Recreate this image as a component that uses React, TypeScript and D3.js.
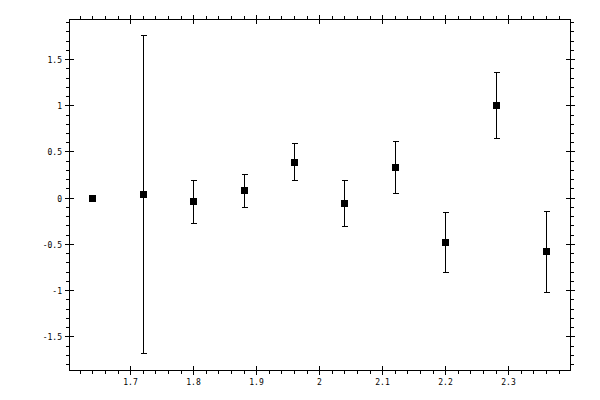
import * as d3 from 'd3';
import { useEffect, useRef } from 'react';

// measured values
const xValues = [1.64, 1.72, 1.8, 1.88, 1.96, 2.04, 2.12, 2.2, 2.28, 2.36];
const yValues = [0.0, 0.04, -0.04, 0.08, 0.39, -0.06, 0.33, -0.48, 1.0, -0.58];
const yErrors = [0, 1.72, 0.23, 0.18, 0.2, 0.25, 0.28, 0.32, 0.357, 0.44];

const xTickValues = [1.7, 1.8, 1.9, 2.0, 2.1, 2.2, 2.3];
const xTickLabels = ['1.7', '1.8', '1.9', '2', '2.1', '2.2', '2.3'];
const yTickValues = [-1.5, -1, -0.5, 0, 0.5, 1, 1.5];
const yTickLabels = ['-1.5', '-1', '-0.5', '0', '0.5', '1', '1.5'];

const width = 600;
const height = 400;
const left = 69;
const right = 570;
const top = 19;
const bottom = 370;

const App = () => {
  const ref = useRef<SVGSVGElement>(null);

  useEffect(() => {
    const svg = d3.select(ref.current);
    svg.selectAll('*').remove();

    const x = d3.scaleLinear([1.603, 2.398], [left, right]);
    const y = d3.scaleLinear([-1.865, 1.934], [bottom, top]);

    const xMinor = d3.range(81, 120).map((i) => i / 50).filter((v) => Math.round(v * 50) % 5 !== 0);
    const yMinor = d3.range(-18, 20).map((i) => i / 10).filter((v) => Math.round(v * 10) % 5 !== 0);

    const g = svg.append('g').attr('shape-rendering', 'crispEdges').attr('stroke', '#000').attr('fill', 'none');

    // frame
    g.append('rect')
      .attr('x', left + 0.5)
      .attr('y', top + 0.5)
      .attr('width', right - left)
      .attr('height', bottom - top);

    // helper for tick segments
    const seg = (x1: number, y1: number, x2: number, y2: number) =>
      g.append('line').attr('x1', x1).attr('y1', y1).attr('x2', x2).attr('y2', y2);

    const px = (v: number) => Math.round(x(v)) + 0.5;
    const py = (v: number) => Math.round(y(v)) + 0.5;

    xTickValues.forEach((v) => {
      seg(px(v), bottom - 4, px(v), bottom + 5);
      seg(px(v), top - 4, px(v), top + 5);
    });
    xMinor.forEach((v) => {
      seg(px(v), bottom, px(v), bottom + 4);
      seg(px(v), top - 3, px(v), top + 1);
    });
    yTickValues.forEach((v) => {
      seg(left - 4, py(v), left + 5, py(v));
      seg(right - 4, py(v), right + 5, py(v));
    });
    yMinor.forEach((v) => {
      seg(left - 3, py(v), left + 1, py(v));
      seg(right, py(v), right + 4, py(v));
    });

    const font = "'DejaVu Sans Mono', monospace";

    svg
      .append('g')
      .selectAll('text')
      .data(xTickValues)
      .enter()
      .append('text')
      .attr('x', (d) => px(d))
      .attr('y', bottom + 15)
      .attr('text-anchor', 'middle')
      .attr('font-family', font)
      .attr('font-size', 8)
      .text((_, i) => xTickLabels[i]);

    svg
      .append('g')
      .selectAll('text')
      .data(yTickValues)
      .enter()
      .append('text')
      .attr('x', left - 7)
      .attr('y', (d) => py(d) + 3)
      .attr('text-anchor', 'end')
      .attr('font-family', font)
      .attr('font-size', 8)
      .text((_, i) => yTickLabels[i]);

    // error bars
    const data = xValues.map((xv, i) => ({ x: xv, y: yValues[i], e: yErrors[i] }));
    const bars = svg
      .append('g')
      .attr('stroke', '#000')
      .attr('shape-rendering', 'crispEdges')
      .selectAll('g')
      .data(data.filter((d) => d.e > 0))
      .enter()
      .append('g');
    bars
      .append('line')
      .attr('x1', (d) => px(d.x))
      .attr('x2', (d) => px(d.x))
      .attr('y1', (d) => py(d.y + d.e))
      .attr('y2', (d) => py(d.y - d.e));
    bars
      .append('line')
      .attr('x1', (d) => px(d.x) - 3)
      .attr('x2', (d) => px(d.x) + 3)
      .attr('y1', (d) => py(d.y + d.e))
      .attr('y2', (d) => py(d.y + d.e));
    bars
      .append('line')
      .attr('x1', (d) => px(d.x) - 3)
      .attr('x2', (d) => px(d.x) + 3)
      .attr('y1', (d) => py(d.y - d.e))
      .attr('y2', (d) => py(d.y - d.e));

    // markers
    svg
      .append('g')
      .attr('shape-rendering', 'crispEdges')
      .selectAll('rect')
      .data(data)
      .enter()
      .append('rect')
      .attr('x', (d) => Math.round(x(d.x)) - 3)
      .attr('y', (d) => Math.round(y(d.y)) - 3)
      .attr('width', 7)
      .attr('height', 7)
      .attr('fill', '#000');
  }, []);

  return (
    <div style={{ position: 'absolute', left: 0, top: 0, background: '#fff' }}>
      <svg ref={ref} width={width} height={height} viewBox={`0 0 ${width} ${height}`} />
    </div>
  );
};

export default App;
